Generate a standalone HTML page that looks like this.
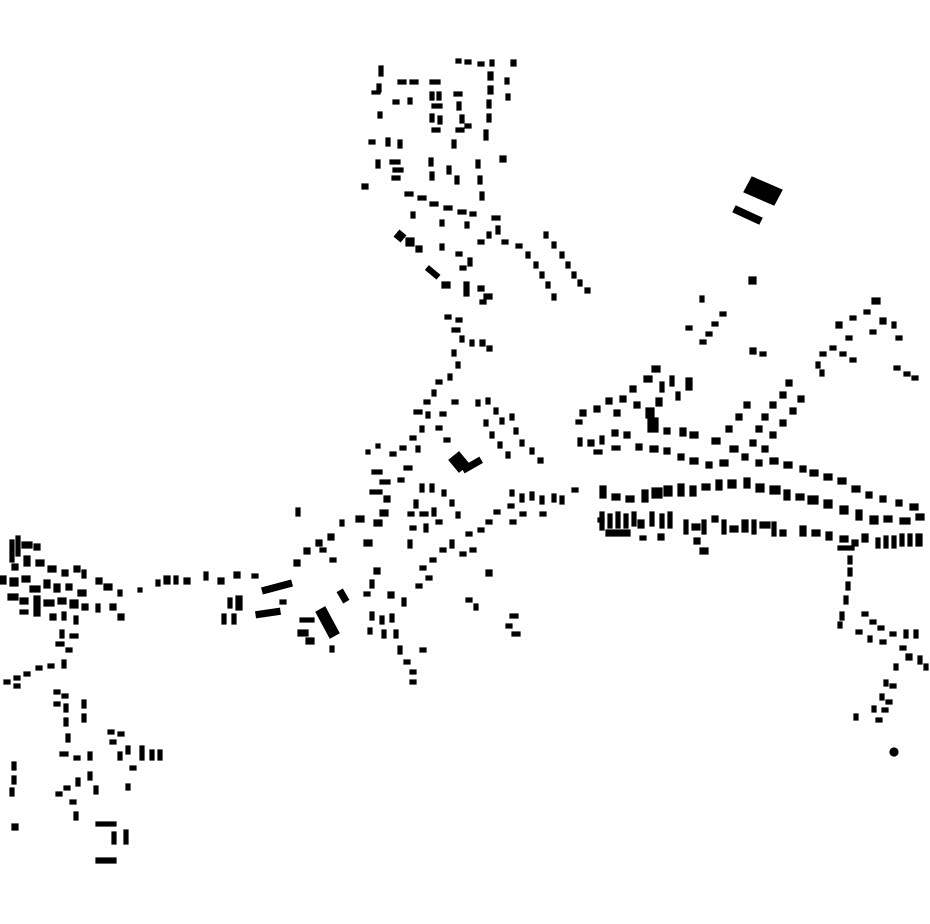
<!DOCTYPE html>
<html><head><meta charset="utf-8"><style>html,body{margin:0;padding:0;background:#fff}svg{display:block}</style></head>
<body>
<svg width="930" height="924" viewBox="0 0 930 924" xmlns="http://www.w3.org/2000/svg" fill="#000" stroke="#000" stroke-width="1.2">
<g>
<rect x="379" y="66" width="4" height="10"/><rect x="377" y="84" width="4" height="8"/><rect x="372" y="91" width="8" height="3"/>
<rect x="398" y="80" width="8" height="4"/><rect x="410" y="80" width="8" height="4"/><rect x="430" y="80" width="10" height="4"/>
<rect x="456" y="59" width="5" height="4"/><rect x="465" y="60" width="6" height="4"/><rect x="478" y="62" width="6" height="4"/><rect x="490" y="60" width="4" height="6"/><rect x="511" y="60" width="5" height="6"/>
<rect x="488" y="72" width="5" height="8"/><rect x="488" y="86" width="5" height="8"/><rect x="487" y="100" width="4" height="8"/><rect x="487" y="114" width="4" height="8"/><rect x="484" y="130" width="4" height="10"/><rect x="505" y="78" width="4" height="6"/><rect x="506" y="94" width="4" height="6"/>
<rect x="430" y="92" width="4" height="8"/><rect x="437" y="92" width="4" height="8"/><rect x="432" y="104" width="10" height="4"/><rect x="430" y="114" width="4" height="8"/><rect x="438" y="116" width="4" height="8"/><rect x="432" y="128" width="8" height="4"/>
<rect x="454" y="92" width="8" height="4"/><rect x="457" y="102" width="4" height="8"/><rect x="460" y="115" width="4" height="8"/><rect x="456" y="128" width="8" height="4"/><rect x="452" y="140" width="4" height="8"/><rect x="465" y="124" width="6" height="4"/>
<rect x="393" y="100" width="6" height="4"/><rect x="408" y="98" width="4" height="6"/><rect x="378" y="112" width="4" height="6"/><rect x="369" y="140" width="6" height="4"/><rect x="386" y="138" width="4" height="8"/><rect x="398" y="140" width="4" height="8"/>
<rect x="376" y="160" width="4" height="8"/><rect x="390" y="160" width="10" height="4"/><rect x="393" y="168" width="10" height="4"/><rect x="392" y="176" width="8" height="4"/><rect x="362" y="184" width="6" height="5"/>
<rect x="429" y="158" width="4" height="8"/><rect x="430" y="172" width="4" height="8"/><rect x="447" y="166" width="4" height="8"/><rect x="455" y="176" width="4" height="8"/><rect x="476" y="160" width="4" height="8"/><rect x="478" y="176" width="4" height="8"/><rect x="480" y="192" width="4" height="8"/><rect x="500" y="156" width="6" height="6"/>
<rect x="405" y="192" width="8" height="4"/><rect x="418" y="196" width="8" height="4"/><rect x="430" y="202" width="8" height="4"/><rect x="444" y="206" width="8" height="4"/><rect x="458" y="210" width="8" height="4"/><rect x="470" y="212" width="6" height="4"/><rect x="492" y="216" width="8" height="4"/><rect x="496" y="226" width="4" height="8"/>
<rect x="411" y="212" width="4" height="6"/><rect x="440" y="220" width="4" height="6"/><rect x="465" y="222" width="4" height="6"/><rect x="487" y="232" width="4" height="6"/><rect x="478" y="240" width="6" height="4"/><rect x="502" y="240" width="6" height="4"/>
<rect x="396" y="232" width="8" height="8" transform="rotate(40 400 236)"/><rect x="406" y="238" width="8" height="8"/><rect x="416" y="246" width="6" height="6"/><rect x="440" y="244" width="4" height="6"/><rect x="456" y="252" width="6" height="4"/><rect x="468" y="258" width="4" height="8"/><rect x="460" y="266" width="6" height="4"/>
<rect x="426" y="270" width="14" height="5" transform="rotate(40 433 272)"/><rect x="442" y="282" width="8" height="6"/><rect x="464" y="282" width="5" height="14"/><rect x="478" y="286" width="6" height="5"/><rect x="484" y="294" width="8" height="5"/><rect x="480" y="300" width="6" height="4"/>
<rect x="516" y="244" width="6" height="4"/><rect x="526" y="252" width="4" height="6"/><rect x="534" y="262" width="4" height="6"/><rect x="540" y="272" width="4" height="6"/><rect x="546" y="282" width="4" height="6"/><rect x="552" y="294" width="4" height="6"/>
<rect x="544" y="232" width="4" height="6"/><rect x="552" y="242" width="4" height="6"/><rect x="560" y="252" width="4" height="6"/><rect x="566" y="262" width="4" height="6"/><rect x="572" y="272" width="4" height="6"/><rect x="578" y="280" width="4" height="6"/><rect x="585" y="288" width="5" height="5"/>
</g>
<polygon points="752,177 782,190 774,205 744,192"/>
<polygon points="736,206 762,218 759,224 733,212"/>
<rect x="749" y="277" width="7" height="7"/>
<g>
<rect x="445" y="315" width="6" height="4"/><rect x="456" y="318" width="6" height="4"/><rect x="452" y="328" width="8" height="4"/><rect x="460" y="336" width="4" height="6"/><rect x="470" y="340" width="4" height="6"/><rect x="480" y="340" width="5" height="6"/><rect x="487" y="346" width="5" height="5"/>
<rect x="452" y="350" width="4" height="6"/><rect x="456" y="362" width="4" height="6"/><rect x="448" y="374" width="4" height="6"/><rect x="436" y="380" width="6" height="4"/><rect x="432" y="390" width="4" height="6"/><rect x="424" y="400" width="6" height="4"/><rect x="414" y="410" width="8" height="4"/><rect x="426" y="412" width="4" height="6"/>
<rect x="420" y="426" width="4" height="6"/><rect x="410" y="436" width="6" height="4"/><rect x="416" y="446" width="4" height="6"/><rect x="400" y="446" width="6" height="4"/><rect x="390" y="452" width="6" height="4"/><rect x="376" y="444" width="4" height="4"/><rect x="366" y="450" width="4" height="4"/>
<rect x="440" y="412" width="6" height="4"/><rect x="436" y="426" width="6" height="4"/><rect x="444" y="438" width="6" height="4"/><rect x="452" y="400" width="6" height="4"/>
<rect x="476" y="400" width="4" height="6"/><rect x="486" y="398" width="4" height="6"/><rect x="494" y="408" width="4" height="6"/><rect x="500" y="418" width="4" height="6"/><rect x="510" y="414" width="4" height="6"/><rect x="514" y="428" width="4" height="6"/><rect x="520" y="440" width="4" height="6"/><rect x="530" y="448" width="4" height="6"/><rect x="538" y="458" width="5" height="5"/>
<rect x="484" y="420" width="4" height="6"/><rect x="490" y="432" width="4" height="6"/><rect x="498" y="442" width="4" height="6"/><rect x="506" y="452" width="4" height="6"/>
<polygon points="449,460 459,452 469,464 459,472"/><rect x="462" y="462" width="20" height="6" transform="rotate(-30 472 465)"/>
<rect x="372" y="470" width="10" height="4"/><rect x="380" y="480" width="10" height="4"/><rect x="370" y="490" width="12" height="4"/><rect x="384" y="496" width="6" height="6"/><rect x="404" y="466" width="8" height="4"/><rect x="398" y="478" width="6" height="4"/>
<rect x="420" y="484" width="4" height="8"/><rect x="430" y="484" width="4" height="8"/><rect x="414" y="500" width="4" height="8"/><rect x="408" y="512" width="6" height="4"/><rect x="420" y="512" width="8" height="4"/><rect x="432" y="508" width="4" height="8"/><rect x="410" y="526" width="6" height="4"/><rect x="424" y="524" width="4" height="8"/><rect x="436" y="520" width="6" height="4"/><rect x="408" y="540" width="4" height="8"/><rect x="442" y="490" width="4" height="6"/><rect x="450" y="500" width="4" height="6"/><rect x="456" y="512" width="4" height="6"/>
<rect x="380" y="510" width="8" height="6"/><rect x="374" y="520" width="8" height="6"/><rect x="356" y="516" width="8" height="6"/><rect x="364" y="540" width="8" height="6"/><rect x="340" y="520" width="4" height="6"/><rect x="328" y="534" width="6" height="6"/><rect x="316" y="540" width="6" height="6"/><rect x="304" y="548" width="6" height="6"/><rect x="294" y="560" width="6" height="6"/><rect x="296" y="508" width="4" height="8"/><rect x="320" y="548" width="6" height="4"/><rect x="330" y="558" width="6" height="4"/>
<rect x="466" y="532" width="6" height="4"/><rect x="478" y="528" width="6" height="4"/><rect x="486" y="520" width="6" height="4"/><rect x="494" y="510" width="6" height="4"/><rect x="508" y="504" width="6" height="4"/><rect x="510" y="490" width="4" height="6"/><rect x="520" y="494" width="4" height="8"/><rect x="530" y="492" width="4" height="8"/><rect x="540" y="496" width="4" height="8"/><rect x="552" y="494" width="4" height="8"/><rect x="560" y="496" width="4" height="8"/><rect x="572" y="488" width="6" height="4"/><rect x="520" y="512" width="6" height="4"/><rect x="510" y="520" width="6" height="4"/><rect x="540" y="512" width="6" height="4"/>
<rect x="450" y="540" width="4" height="8"/><rect x="440" y="548" width="6" height="4"/><rect x="430" y="558" width="6" height="4"/><rect x="420" y="566" width="6" height="4"/><rect x="426" y="576" width="6" height="4"/><rect x="416" y="584" width="6" height="4"/><rect x="460" y="552" width="6" height="4"/><rect x="470" y="548" width="6" height="4"/><rect x="486" y="570" width="6" height="6"/><rect x="466" y="598" width="6" height="4"/><rect x="474" y="604" width="4" height="6"/>
<rect x="374" y="568" width="6" height="6"/><rect x="370" y="580" width="4" height="8"/><rect x="364" y="592" width="6" height="4"/><rect x="388" y="592" width="6" height="6"/><rect x="402" y="598" width="4" height="8"/><rect x="370" y="612" width="4" height="8"/><rect x="380" y="616" width="4" height="8"/><rect x="390" y="614" width="4" height="8"/><rect x="368" y="628" width="4" height="6"/><rect x="382" y="630" width="4" height="8"/><rect x="394" y="630" width="4" height="8"/><rect x="398" y="646" width="4" height="8"/><rect x="404" y="660" width="6" height="4"/><rect x="410" y="670" width="6" height="4"/><rect x="410" y="680" width="6" height="4"/><rect x="420" y="648" width="6" height="4"/>
<rect x="510" y="614" width="8" height="4"/><rect x="506" y="624" width="6" height="4"/><rect x="512" y="632" width="8" height="4"/>
<rect x="340" y="590" width="6" height="12" transform="rotate(-30 343 596)"/>
<polygon points="316,612 325,607 339,633 330,638"/>
<rect x="300" y="618" width="14" height="4"/><rect x="298" y="630" width="10" height="6"/><rect x="306" y="638" width="8" height="6"/><rect x="330" y="646" width="4" height="6"/>
<rect x="262" y="584" width="30" height="6" transform="rotate(-15 277 587)"/><rect x="256" y="610" width="24" height="6" transform="rotate(-8 268 613)"/><rect x="236" y="596" width="6" height="14"/><rect x="228" y="598" width="4" height="10"/><rect x="222" y="614" width="4" height="10"/><rect x="232" y="614" width="4" height="10"/><rect x="280" y="600" width="6" height="4"/>
<rect x="252" y="574" width="6" height="4"/><rect x="234" y="572" width="6" height="6"/><rect x="218" y="578" width="6" height="6"/><rect x="204" y="572" width="4" height="8"/><rect x="184" y="578" width="6" height="6"/><rect x="174" y="576" width="4" height="8"/><rect x="164" y="576" width="6" height="8"/><rect x="156" y="580" width="4" height="6"/><rect x="138" y="588" width="4" height="4"/>
</g>
<g>
<rect x="700" y="296" width="4" height="6"/><rect x="720" y="312" width="6" height="4"/><rect x="712" y="322" width="6" height="4"/><rect x="706" y="332" width="6" height="4"/><rect x="700" y="340" width="6" height="4"/><rect x="686" y="326" width="6" height="4"/><rect x="750" y="348" width="6" height="6"/><rect x="760" y="352" width="6" height="4"/>
<rect x="872" y="298" width="8" height="6"/><rect x="864" y="310" width="6" height="4"/><rect x="850" y="316" width="6" height="4"/><rect x="836" y="322" width="6" height="6"/><rect x="880" y="318" width="6" height="6"/><rect x="892" y="322" width="4" height="6"/><rect x="870" y="330" width="6" height="4"/><rect x="896" y="336" width="6" height="4"/><rect x="846" y="336" width="6" height="4"/><rect x="830" y="346" width="6" height="4"/><rect x="820" y="352" width="6" height="4"/><rect x="840" y="352" width="6" height="4"/><rect x="850" y="358" width="6" height="4"/><rect x="816" y="362" width="4" height="6"/><rect x="820" y="370" width="4" height="6"/><rect x="894" y="366" width="6" height="4"/><rect x="904" y="372" width="6" height="4"/><rect x="912" y="376" width="6" height="4"/>
</g>
<g>
<rect x="652" y="366" width="8" height="6"/><rect x="644" y="376" width="8" height="6"/><rect x="630" y="386" width="6" height="6"/><rect x="620" y="396" width="6" height="6"/><rect x="606" y="398" width="6" height="6"/><rect x="594" y="406" width="6" height="6"/><rect x="580" y="410" width="6" height="6"/><rect x="576" y="420" width="6" height="4"/><rect x="670" y="376" width="4" height="10"/><rect x="660" y="382" width="4" height="10"/><rect x="686" y="378" width="6" height="12"/><rect x="676" y="392" width="4" height="8"/><rect x="656" y="398" width="6" height="8"/><rect x="646" y="408" width="8" height="10"/><rect x="634" y="402" width="6" height="6"/><rect x="614" y="410" width="6" height="6"/>
<rect x="648" y="418" width="10" height="14"/><rect x="664" y="428" width="6" height="6"/><rect x="680" y="428" width="6" height="8"/><rect x="690" y="432" width="8" height="6"/><rect x="712" y="438" width="8" height="6"/><rect x="726" y="426" width="6" height="6"/><rect x="736" y="414" width="6" height="6"/><rect x="744" y="402" width="6" height="6"/><rect x="730" y="446" width="8" height="6"/>
<rect x="578" y="438" width="4" height="8"/><rect x="588" y="440" width="6" height="6"/><rect x="600" y="436" width="4" height="8"/><rect x="612" y="430" width="6" height="6"/><rect x="624" y="432" width="6" height="6"/><rect x="594" y="450" width="8" height="4"/><rect x="612" y="446" width="8" height="4"/><rect x="636" y="444" width="6" height="6"/><rect x="650" y="446" width="8" height="6"/><rect x="664" y="448" width="6" height="6"/><rect x="678" y="454" width="6" height="6"/><rect x="690" y="458" width="8" height="6"/><rect x="706" y="462" width="6" height="6"/><rect x="720" y="460" width="8" height="6"/>
<rect x="786" y="380" width="6" height="6"/><rect x="780" y="392" width="6" height="6"/><rect x="798" y="396" width="6" height="6"/><rect x="770" y="402" width="6" height="6"/><rect x="790" y="408" width="6" height="6"/><rect x="762" y="414" width="6" height="6"/><rect x="780" y="420" width="6" height="6"/><rect x="756" y="426" width="6" height="6"/><rect x="770" y="432" width="6" height="6"/><rect x="750" y="440" width="6" height="6"/><rect x="762" y="446" width="6" height="6"/><rect x="742" y="454" width="6" height="6"/><rect x="756" y="460" width="6" height="6"/><rect x="770" y="458" width="8" height="6"/><rect x="784" y="462" width="8" height="6"/><rect x="800" y="466" width="6" height="6"/><rect x="810" y="470" width="8" height="6"/><rect x="824" y="474" width="8" height="6"/><rect x="838" y="478" width="8" height="6"/><rect x="852" y="486" width="8" height="6"/><rect x="866" y="492" width="6" height="6"/><rect x="880" y="496" width="6" height="6"/><rect x="896" y="500" width="6" height="6"/><rect x="910" y="504" width="8" height="6"/><rect x="916" y="514" width="8" height="6"/>
<rect x="600" y="486" width="6" height="12"/><rect x="612" y="494" width="8" height="6"/><rect x="626" y="496" width="8" height="6"/><rect x="642" y="490" width="6" height="12"/><rect x="652" y="488" width="10" height="10"/><rect x="664" y="486" width="8" height="10"/><rect x="678" y="484" width="6" height="12"/><rect x="690" y="486" width="6" height="10"/><rect x="702" y="484" width="8" height="6"/><rect x="716" y="480" width="6" height="10"/><rect x="728" y="480" width="8" height="8"/><rect x="744" y="478" width="6" height="10"/><rect x="756" y="484" width="8" height="8"/><rect x="770" y="486" width="10" height="8"/><rect x="784" y="490" width="6" height="10"/><rect x="796" y="494" width="8" height="6"/><rect x="808" y="496" width="10" height="8"/><rect x="824" y="500" width="8" height="8"/><rect x="840" y="506" width="8" height="8"/><rect x="856" y="510" width="6" height="10"/><rect x="870" y="516" width="8" height="8"/><rect x="884" y="516" width="8" height="6"/><rect x="900" y="518" width="10" height="6"/>
<rect x="600" y="512" width="4" height="18"/><rect x="608" y="514" width="4" height="14"/><rect x="616" y="512" width="4" height="16"/><rect x="624" y="514" width="4" height="14"/><rect x="632" y="512" width="4" height="14"/><rect x="606" y="530" width="24" height="6"/><rect x="638" y="520" width="6" height="8"/><rect x="650" y="512" width="4" height="14"/><rect x="660" y="514" width="4" height="14"/><rect x="668" y="512" width="4" height="16"/><rect x="684" y="520" width="4" height="14"/><rect x="692" y="524" width="8" height="6"/><rect x="702" y="520" width="4" height="14"/><rect x="712" y="516" width="6" height="6"/><rect x="722" y="520" width="4" height="14"/><rect x="730" y="526" width="8" height="6"/><rect x="694" y="538" width="6" height="6"/><rect x="700" y="548" width="8" height="6"/><rect x="742" y="520" width="6" height="12"/><rect x="752" y="520" width="4" height="14"/><rect x="760" y="522" width="10" height="6"/><rect x="772" y="522" width="4" height="14"/><rect x="780" y="530" width="6" height="6"/><rect x="800" y="526" width="6" height="10"/><rect x="812" y="530" width="8" height="6"/><rect x="826" y="532" width="6" height="8"/><rect x="840" y="536" width="8" height="6"/><rect x="852" y="540" width="6" height="6"/><rect x="862" y="534" width="6" height="8"/><rect x="876" y="538" width="4" height="10"/><rect x="884" y="536" width="4" height="12"/><rect x="892" y="536" width="4" height="12"/><rect x="900" y="534" width="4" height="12"/><rect x="908" y="534" width="4" height="12"/><rect x="916" y="534" width="6" height="12"/><rect x="838" y="546" width="16" height="4"/><rect x="658" y="534" width="6" height="6"/><rect x="640" y="536" width="6" height="4"/><rect x="598" y="518" width="6" height="4"/>
</g>
<g>
<rect x="848" y="556" width="4" height="8"/><rect x="848" y="568" width="4" height="8"/><rect x="846" y="582" width="4" height="8"/><rect x="844" y="596" width="4" height="8"/><rect x="840" y="612" width="4" height="8"/><rect x="838" y="622" width="4" height="6"/>
<rect x="862" y="612" width="6" height="4"/><rect x="870" y="620" width="6" height="4"/><rect x="878" y="626" width="6" height="4"/><rect x="856" y="630" width="6" height="4"/><rect x="868" y="636" width="4" height="6"/><rect x="880" y="640" width="6" height="4"/><rect x="890" y="632" width="6" height="4"/><rect x="904" y="630" width="4" height="8"/><rect x="914" y="630" width="4" height="8"/><rect x="900" y="646" width="6" height="4"/><rect x="906" y="654" width="6" height="6"/><rect x="918" y="656" width="4" height="8"/><rect x="924" y="664" width="4" height="6"/><rect x="894" y="664" width="4" height="6"/>
<rect x="884" y="680" width="4" height="6"/><rect x="890" y="684" width="6" height="4"/><rect x="880" y="694" width="4" height="6"/><rect x="886" y="700" width="6" height="4"/><rect x="872" y="706" width="4" height="6"/><rect x="882" y="708" width="6" height="4"/><rect x="876" y="718" width="6" height="4"/><rect x="854" y="714" width="4" height="6"/><circle cx="894" cy="752" r="4"/>
</g>
<g>
<rect x="10" y="540" width="4" height="22"/><rect x="16" y="536" width="4" height="20"/><rect x="22" y="542" width="10" height="6"/><rect x="34" y="544" width="6" height="6"/><rect x="12" y="564" width="6" height="6"/><rect x="24" y="556" width="6" height="10"/><rect x="36" y="560" width="8" height="6"/><rect x="48" y="566" width="8" height="6"/><rect x="62" y="570" width="6" height="6"/><rect x="74" y="566" width="6" height="6"/><rect x="82" y="570" width="4" height="8"/><rect x="0" y="576" width="6" height="8"/><rect x="10" y="578" width="8" height="8"/><rect x="22" y="576" width="8" height="6"/><rect x="30" y="586" width="10" height="6"/><rect x="44" y="580" width="6" height="8"/><rect x="54" y="584" width="6" height="8"/><rect x="66" y="584" width="6" height="6"/><rect x="78" y="590" width="8" height="6"/><rect x="96" y="578" width="6" height="6"/><rect x="104" y="584" width="8" height="6"/><rect x="118" y="590" width="4" height="6"/>
<rect x="8" y="594" width="10" height="6"/><rect x="20" y="598" width="8" height="6"/><rect x="34" y="596" width="6" height="20"/><rect x="44" y="600" width="10" height="6"/><rect x="58" y="598" width="8" height="6"/><rect x="70" y="600" width="8" height="8"/><rect x="82" y="604" width="6" height="6"/><rect x="96" y="604" width="4" height="8"/><rect x="110" y="604" width="6" height="6"/><rect x="118" y="614" width="6" height="6"/><rect x="20" y="610" width="8" height="4"/><rect x="50" y="614" width="6" height="6"/><rect x="62" y="612" width="4" height="8"/><rect x="74" y="616" width="4" height="8"/>
<rect x="60" y="630" width="4" height="8"/><rect x="70" y="634" width="8" height="4"/><rect x="56" y="642" width="8" height="4"/><rect x="66" y="648" width="6" height="4"/><rect x="62" y="660" width="4" height="8"/><rect x="48" y="664" width="6" height="4"/><rect x="36" y="666" width="6" height="4"/><rect x="24" y="672" width="6" height="4"/><rect x="14" y="676" width="6" height="4"/><rect x="4" y="680" width="6" height="4"/><rect x="14" y="684" width="6" height="4"/>
<rect x="54" y="690" width="6" height="4"/><rect x="62" y="694" width="6" height="4"/><rect x="54" y="702" width="6" height="4"/><rect x="64" y="704" width="4" height="8"/><rect x="82" y="700" width="4" height="8"/><rect x="82" y="714" width="4" height="8"/><rect x="64" y="718" width="4" height="8"/><rect x="66" y="734" width="4" height="8"/><rect x="108" y="730" width="6" height="4"/><rect x="118" y="732" width="6" height="4"/><rect x="110" y="740" width="6" height="4"/><rect x="126" y="746" width="4" height="8"/><rect x="140" y="746" width="4" height="14"/><rect x="150" y="750" width="4" height="10"/><rect x="158" y="750" width="4" height="10"/><rect x="118" y="752" width="4" height="8"/><rect x="60" y="752" width="8" height="4"/><rect x="74" y="756" width="6" height="4"/><rect x="88" y="752" width="4" height="8"/><rect x="130" y="766" width="6" height="4"/>
<rect x="88" y="772" width="4" height="8"/><rect x="76" y="778" width="4" height="8"/><rect x="64" y="786" width="6" height="4"/><rect x="56" y="792" width="6" height="4"/><rect x="126" y="784" width="4" height="6"/><rect x="94" y="786" width="4" height="8"/><rect x="70" y="800" width="6" height="4"/><rect x="74" y="812" width="4" height="8"/>
<rect x="12" y="762" width="4" height="8"/><rect x="12" y="776" width="4" height="8"/><rect x="10" y="788" width="4" height="8"/><rect x="12" y="824" width="6" height="6"/>
<rect x="96" y="822" width="20" height="4"/><rect x="112" y="832" width="4" height="12"/><rect x="124" y="830" width="4" height="14"/><rect x="96" y="858" width="20" height="5"/>
</g>
</svg>
</body></html>
